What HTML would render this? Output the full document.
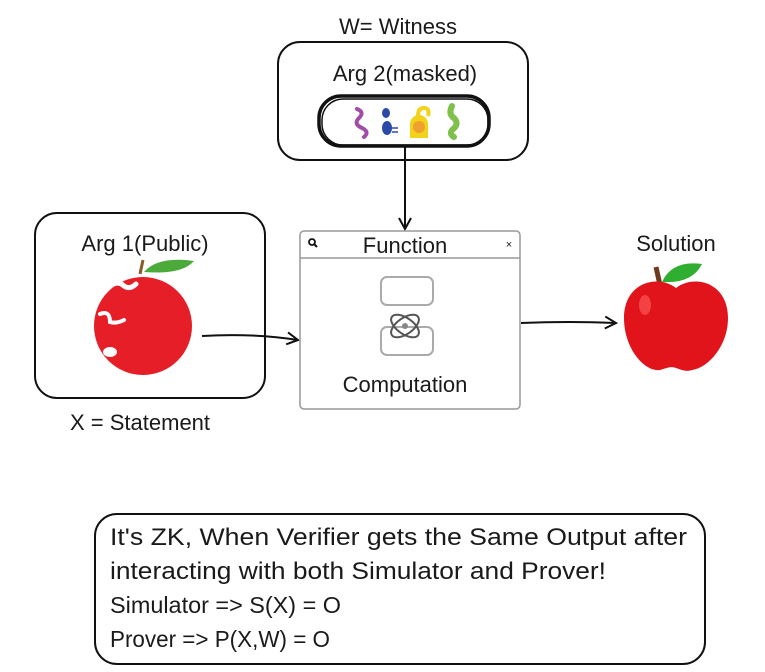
<!DOCTYPE html>
<html><head><meta charset="utf-8"><style>
html,body{margin:0;padding:0;background:#fff;width:765px;height:672px;overflow:hidden}
svg{display:block}
text{font-family:"Liberation Sans",sans-serif;fill:#1a1a1a}
</style></head><body>
<svg width="765" height="672" viewBox="0 0 765 672" xmlns="http://www.w3.org/2000/svg">
<defs>
<marker id="ah" markerWidth="14" markerHeight="14" refX="12" refY="7" orient="auto" markerUnits="userSpaceOnUse">
<path d="M1,1 L12,7 L1,13" fill="none" stroke="#111" stroke-width="2"/>
</marker>
</defs>
<text x="398" y="34" font-size="22" text-anchor="middle">W= Witness</text>
<rect x="278" y="42" width="250" height="118" rx="22" fill="none" stroke="#111" stroke-width="2"/>
<text x="405" y="81" font-size="22" text-anchor="middle">Arg 2(masked)</text>
<rect x="319" y="96" width="170" height="50" rx="22" fill="none" stroke="#111" stroke-width="3.5"/>
<rect x="322" y="99" width="166" height="46" rx="21" fill="none" stroke="#111" stroke-width="1.5"/>
<path d="M357,109 q8,3 2,9 q-6,6 3,10 q8,4 2,9" fill="none" stroke="#a04ca8" stroke-width="4" stroke-linecap="round"/>
<ellipse cx="386" cy="113" rx="4" ry="5" fill="#2b4aa8"/><ellipse cx="387" cy="128" rx="5" ry="7" fill="#2b4aa8"/>
<path d="M392,128 h6 M392,132 h6" stroke="#2b4aa8" stroke-width="1.5"/>
<path d="M410,138 v-14 a9,9 0 1 1 18,0 v14 z" fill="#f2d21a"/><circle cx="419" cy="127" r="6" fill="#f0a030"/>
<path d="M418,116 q0,-8 6,-8 q6,0 4,8" fill="none" stroke="#f2d21a" stroke-width="4"/>
<path d="M452,106 q-4,8 2,12 q6,6 -2,12 q-3,4 2,7" fill="none" stroke="#7ec04a" stroke-width="6" stroke-linecap="round"/>
<line x1="405" y1="146" x2="405" y2="229" stroke="#111" stroke-width="2" marker-end="url(#ah)"/>

<rect x="35" y="213" width="230" height="185" rx="22" fill="none" stroke="#111" stroke-width="2"/>
<text x="145" y="251" font-size="22" text-anchor="middle">Arg 1(Public)</text>
<path d="M140,274 l3,-14" stroke="#8a5a2b" stroke-width="3"/>
<path d="M144,272 q14,-16 50,-11 q-12,14 -50,11z" fill="#4caa3a"/>
<circle cx="143" cy="326" r="49" fill="#e61e28"/>
<path d="M110,286 q8,-6 14,0 q6,4 12,-2" fill="none" stroke="#fff" stroke-width="5" stroke-linecap="round"/>
<path d="M100,314 q10,-4 10,8 q6,2 14,-2" fill="none" stroke="#fff" stroke-width="4" stroke-linecap="round"/>
<ellipse cx="110" cy="352" rx="7" ry="5" fill="#fff"/>
<path d="M202,336 q50,-3 96,4" fill="none" stroke="#111" stroke-width="2" marker-end="url(#ah)"/>

<rect x="300" y="231" width="220" height="178" rx="4" fill="#fff" stroke="#999" stroke-width="1.5"/>
<line x1="300" y1="258" x2="520" y2="258" stroke="#999" stroke-width="1.5"/>
<circle cx="312" cy="242" r="3" fill="none" stroke="#111" stroke-width="1.8"/><line x1="314" y1="244" x2="317" y2="247" stroke="#111" stroke-width="2"/>
<text x="405" y="253" font-size="22" text-anchor="middle">Function</text>
<text x="509" y="248" font-size="11" text-anchor="middle">×</text>
<g fill="none" stroke="#aaa" stroke-width="2">
<rect x="381" y="277" width="52" height="28" rx="6"/>
<rect x="381" y="327" width="52" height="28" rx="6"/>
<ellipse cx="405" cy="326" rx="16" ry="8" stroke="#555" transform="rotate(35 405 326)"/>
<ellipse cx="405" cy="326" rx="16" ry="8" stroke="#555" transform="rotate(-35 405 326)"/>
</g>
<circle cx="405" cy="326" r="3" fill="#888"/>
<text x="405" y="392" font-size="22" text-anchor="middle">Computation</text>
<path d="M521,323 q48,-2 95,0" fill="none" stroke="#111" stroke-width="2" marker-end="url(#ah)"/>

<text x="676" y="251" font-size="22" text-anchor="middle">Solution</text>
<path d="M660,285 l-4,-18" stroke="#6b3b1b" stroke-width="5"/>
<path d="M662,282 q10,-22 40,-18 q-10,20 -40,18z" fill="#2fae2f"/>
<path d="M676,288 c-18,-14 -52,-6 -52,30 c0,30 20,54 36,52 c8,-2 10,-4 16,-2 c6,2 10,4 16,2 c16,-2 36,-24 36,-52 c0,-36 -34,-44 -52,-30z" fill="#e0141a"/>
<ellipse cx="645" cy="305" rx="6" ry="10" fill="#ff6060" opacity="0.6"/>

<text x="70" y="430" font-size="22">X = Statement</text>

<rect x="95" y="514" width="610" height="150" rx="22" fill="none" stroke="#111" stroke-width="2"/>
<text x="110" y="545" font-size="24" textLength="577" lengthAdjust="spacingAndGlyphs">It's ZK, When Verifier gets the Same Output after</text>
<text x="110" y="579" font-size="24" textLength="496" lengthAdjust="spacingAndGlyphs">interacting with both Simulator and Prover!</text>
<text x="110" y="613" font-size="23" textLength="231" lengthAdjust="spacingAndGlyphs">Simulator =&gt; S(X) = O</text>
<text x="110" y="647" font-size="23" textLength="220" lengthAdjust="spacingAndGlyphs">Prover =&gt; P(X,W) = O</text>
</svg>
</body></html>
